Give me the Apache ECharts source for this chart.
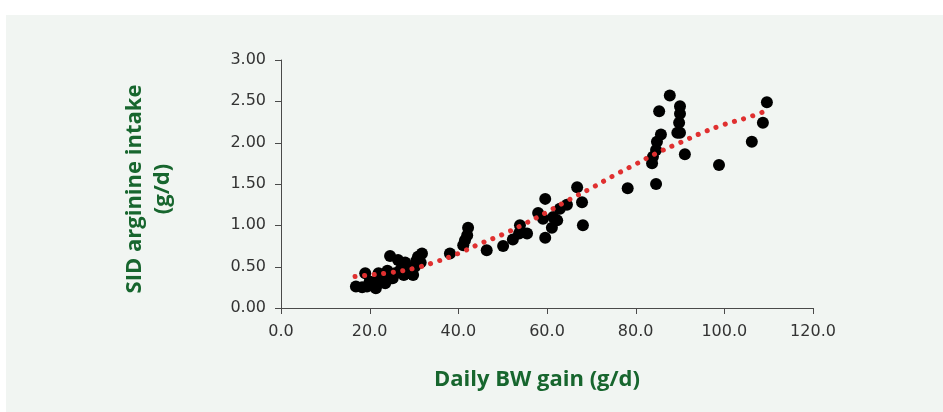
<!DOCTYPE html>
<html>
<head>
<meta charset="utf-8">
<script src="https://cdn.jsdelivr.net/npm/echarts@6/dist/echarts.min.js"></script>
<style>
  html, body { margin: 0; padding: 0; background: #fff; }
  #chart { width: 943px; height: 412px; }
</style>
</head>
<body>
<div id="chart"></div>
<script>
// daily BW gain (g/d) of each observation
const gainX = [
  16.9, 18.3, 19.0, 19.4, 20.5, 21.4, 21.7, 22.3, 23.0, 23.5,
  24.0, 24.6, 25.2, 25.7, 26.4, 26.8, 27.3, 28.0, 28.5, 29.1,
  29.8, 30.2, 30.5, 30.9, 31.5, 31.8, 22.0, 20.0, 24.3, 27.7,
  38.1, 41.1, 41.5, 42.0, 42.2, 46.4, 50.1, 52.3, 53.7, 53.9,
  55.5, 58.0, 59.1, 59.6, 59.6, 61.1, 61.4, 62.3, 62.9, 64.5,
  66.8, 67.9, 68.1, 78.2,
  83.7, 83.9, 84.6, 84.6, 84.8, 85.3, 85.7, 87.7, 89.4, 89.8,
  90.0, 90.0, 90.0, 91.1, 98.8, 106.2, 108.7, 109.6
]
// SID arginine intake (g/d) of each observation
const argY = [
  0.26, 0.25, 0.42, 0.26, 0.30, 0.24, 0.34, 0.40, 0.38, 0.30,
  0.45, 0.63, 0.36, 0.42, 0.58, 0.45, 0.50, 0.55, 0.47, 0.42,
  0.40, 0.50, 0.57, 0.62, 0.55, 0.66, 0.42, 0.32, 0.35, 0.40,
  0.66, 0.76, 0.82, 0.88, 0.97, 0.70, 0.75, 0.83, 0.90, 1.00,
  0.90, 1.15, 1.08, 1.32, 0.85, 0.97, 1.10, 1.06, 1.20, 1.25,
  1.46, 1.28, 1.00, 1.45,
  1.75, 1.83, 1.91, 1.50, 2.01, 2.38, 2.10, 2.57, 2.12, 2.24,
  2.35, 2.44, 2.12, 1.86, 1.73, 2.01, 2.24, 2.49
]
// dotted trend line
const trendX = [16.7, 20, 25, 30, 35, 40, 45, 50, 55, 60, 65, 70, 75, 80, 85, 90, 95, 100, 105, 108.7]
const trendY = [0.38, 0.40, 0.43, 0.48, 0.56, 0.66, 0.78, 0.89, 1.02, 1.16, 1.31, 1.45, 1.60, 1.74, 1.88, 2.00, 2.12, 2.22, 2.30, 2.37]
// axis tick values
const xTicks = [0, 20, 40, 60, 80, 100, 120]
const yTicks = [0, 0.5, 1, 1.5, 2, 2.5, 3]

const chart = echarts.init(document.getElementById('chart'))

const tickFont = { fontFamily: 'DejaVu Sans', fontSize: 16, color: '#333' }
const titleFont = { fontFamily: 'Open Sans', fontWeight: 'bold', fontSize: 22, color: '#17662e', lineHeight: 28 }
const axisLine = { show: true, lineStyle: { color: '#4a4a4a', width: 1 } }
const TICK_LEN = 6

// outward tick marks drawn with the grid's own coordinate system
function tickItem(params, api) {
  const kind = api.value(0)
  const v = api.value(1)
  const p = kind === 0 ? api.coord([v, 0]) : api.coord([0, v])
  const shape = kind === 0
    ? { x1: Math.round(p[0]) + 0.5, y1: p[1], x2: Math.round(p[0]) + 0.5, y2: p[1] + TICK_LEN }
    : { x1: p[0] - TICK_LEN, y1: Math.round(p[1]) + 0.5, x2: p[0], y2: Math.round(p[1]) + 0.5 }
  return { type: 'line', shape: shape, style: { stroke: '#4a4a4a', lineWidth: 1 } }
}

chart.setOption({
  animation: false,
  backgroundColor: '#fff',
  graphic: [{
    type: 'rect', z: -10, silent: true,
    shape: { x: 6, y: 15, width: 937, height: 397 },
    style: { fill: '#f1f5f2' }
  }],
  grid: { left: 281, right: 130, top: 60, bottom: 104 },
  xAxis: {
    type: 'value', min: 0, max: 120, interval: 20,
    axisLine: axisLine,
    axisTick: { show: false },
    splitLine: { show: false },
    axisLabel: Object.assign({ margin: 16, formatter: v => v.toFixed(1) }, tickFont),
    name: 'Daily BW gain (g/d)',
    nameLocation: 'middle', nameGap: 58,
    nameTextStyle: Object.assign({ padding: [0, 20, 0, 0] }, titleFont)
  },
  yAxis: {
    type: 'value', min: 0, max: 3, interval: 0.5,
    axisLine: axisLine,
    axisTick: { show: false },
    splitLine: { show: false },
    axisLabel: Object.assign({ margin: 15, formatter: v => v.toFixed(2) }, tickFont),
    name: 'SID arginine intake\n(g/d)',
    nameLocation: 'middle', nameRotate: 90, nameGap: 104,
    nameTextStyle: Object.assign({ padding: [0, 10, 0, 0] }, titleFont)
  },
  series: [
    {
      type: 'scatter',
      data: gainX.map((x, i) => [x, argY[i]]),
      symbolSize: 12,
      itemStyle: { color: '#000', opacity: 1 },
      z: 2
    },
    {
      type: 'line',
      data: trendX.map((x, i) => [x, trendY[i]]),
      smooth: true,
      showSymbol: false,
      lineStyle: { color: '#e03030', width: 5, type: [0.1, 9.5], cap: 'round' },
      z: 3
    },
    {
      type: 'custom',
      clip: false,
      silent: true,
      renderItem: tickItem,
      encode: { x: -1, y: -1 },
      data: xTicks.map(v => [0, v]).concat(yTicks.map(v => [1, v])),
      z: 1
    }
  ]
})
</script>
</body>
</html>
